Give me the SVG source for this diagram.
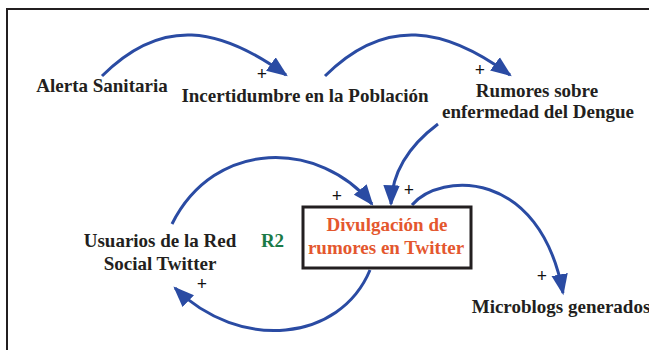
<svg xmlns="http://www.w3.org/2000/svg" width="649" height="350" viewBox="0 0 649 350">
<style>
text{font-family:"Liberation Serif","Times New Roman",serif;font-weight:bold;font-size:19px;fill:#231f20;text-anchor:middle}
.sign{font-size:18px;fill:#111111}
.lnk{fill:none;stroke:#2a4ba3;stroke-width:3}
.orange{fill:#e4572e}
.green{fill:#1b7a47}
</style>
<defs>
<marker id="ah" markerUnits="userSpaceOnUse" markerWidth="22" markerHeight="17" refX="17" refY="7.5" orient="auto" viewBox="0 0 20 15">
<path d="M0,0 L19,7.5 L0,15 Z" fill="#2a4ba3"/>
</marker>
</defs>
<rect width="649" height="350" fill="#ffffff"/>
<path d="M7,350 V9 H649" fill="none" stroke="#231f20" stroke-width="2"/>
<g id="connectors">
<path class="lnk" d="M102,76 C162,16 220,27 286,75" marker-end="url(#ah)"/>
<path class="lnk" d="M325,76 C385,16 445,27 510,75" marker-end="url(#ah)"/>
<path class="lnk" d="M438,124 C410,145 392,170 391,204" marker-end="url(#ah)"/>
<path class="lnk" d="M172,224 C215,138 320,140 372,204" marker-end="url(#ah)"/>
<path class="lnk" d="M412,205 C440,172 540,168 563,293" marker-end="url(#ah)"/>
<path class="lnk" d="M370,270 C340,342 240,352 175,288" marker-end="url(#ah)"/>
</g>
<g id="signs">
<text class="sign" x="262" y="80">+</text>
<text class="sign" x="480" y="76">+</text>
<text class="sign" x="337" y="202">+</text>
<text class="sign" x="409" y="196">+</text>
<text class="sign" x="202" y="290">+</text>
<text class="sign" x="542" y="282">+</text>
</g>
<g id="alerta"><text x="102" y="92">Alerta Sanitaria</text></g>
<g id="incertidumbre"><text x="305" y="102">Incertidumbre en la Población</text></g>
<g id="rumores"><text x="537" y="97">Rumores sobre</text><text x="538" y="118">enfermedad del Dengue</text></g>
<g id="divulgacion">
<rect x="303" y="207" width="168" height="61" fill="#ffffff" stroke="#231f20" stroke-width="3"/>
<text class="orange" x="387" y="231">Divulgación de</text>
<text class="orange" x="386" y="254">rumores en Twitter</text>
</g>
<g id="usuarios"><text x="160" y="247">Usuarios de la Red</text><text x="160" y="270">Social Twitter</text></g>
<g id="loop"><text class="green" x="272.5" y="247">R2</text></g>
<g id="microblogs"><text x="561" y="313">Microblogs generados</text></g>
</svg>
